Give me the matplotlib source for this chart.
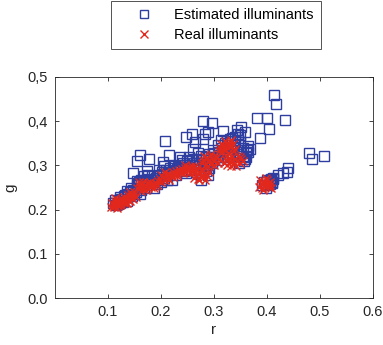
import matplotlib
matplotlib.use('Agg')
import matplotlib.pyplot as plt
from matplotlib.ticker import FixedLocator, FixedFormatter

plt.rcParams['font.family'] = ['Liberation Sans', 'DejaVu Sans']

# real illuminants (r, g), one row per cluster
real_r = [0.106, 0.109, 0.112, 0.115, 0.118, 0.121, 0.124, 0.127, 0.130, 0.108, 0.111, 0.114, 0.117, 0.120, 0.123, 0.126, 0.113, 0.119,
          0.129, 0.132, 0.135, 0.138, 0.141, 0.144, 0.147, 0.150, 0.153, 0.131, 0.134, 0.137, 0.140, 0.143, 0.146, 0.149, 0.136, 0.142,
          0.155, 0.158, 0.161, 0.164, 0.167, 0.170, 0.173, 0.176, 0.179, 0.182, 0.185, 0.188, 0.191, 0.159, 0.166, 0.172, 0.180, 0.186, 0.193, 0.163,
          0.195, 0.198, 0.201, 0.204, 0.207, 0.210, 0.213, 0.216, 0.219, 0.222, 0.225, 0.228, 0.231, 0.234, 0.200, 0.208, 0.215, 0.223, 0.230, 0.236,
          0.237, 0.240, 0.243, 0.246, 0.249, 0.252, 0.255, 0.258, 0.261, 0.264, 0.242, 0.248, 0.254, 0.260, 0.266, 0.245,
          0.263, 0.266, 0.269, 0.272, 0.275, 0.278, 0.281, 0.284, 0.287, 0.290, 0.265, 0.271, 0.277, 0.283, 0.268, 0.280,
          0.277, 0.280, 0.283, 0.286, 0.289, 0.292, 0.295, 0.298, 0.301, 0.304, 0.307, 0.310, 0.282, 0.288, 0.294, 0.300, 0.306, 0.291,
          0.309, 0.312, 0.315, 0.318, 0.321, 0.324, 0.327, 0.330, 0.333, 0.336, 0.339, 0.314, 0.320, 0.326, 0.332, 0.338, 0.317, 0.329,
          0.319, 0.322, 0.325, 0.328, 0.331, 0.334, 0.337, 0.340, 0.343, 0.346, 0.349, 0.352, 0.355, 0.324, 0.332, 0.341, 0.350, 0.336,
          0.385, 0.388, 0.391, 0.394, 0.397, 0.400, 0.403, 0.406, 0.387, 0.393, 0.399, 0.405, 0.390, 0.396, 0.402, 0.408]
real_g = [0.207, 0.212, 0.205, 0.214, 0.209, 0.217, 0.212, 0.219, 0.215, 0.216, 0.208, 0.220, 0.204, 0.222, 0.210, 0.224, 0.226, 0.211,
          0.218, 0.222, 0.216, 0.226, 0.220, 0.230, 0.224, 0.233, 0.229, 0.228, 0.214, 0.232, 0.219, 0.236, 0.227, 0.239, 0.225, 0.240,
          0.248, 0.255, 0.250, 0.258, 0.246, 0.253, 0.260, 0.249, 0.257, 0.252, 0.259, 0.254, 0.261, 0.262, 0.262, 0.245, 0.263, 0.248, 0.256, 0.243,
          0.264, 0.270, 0.262, 0.274, 0.268, 0.278, 0.271, 0.281, 0.275, 0.284, 0.278, 0.287, 0.281, 0.290, 0.279, 0.284, 0.266, 0.273, 0.275, 0.284,
          0.286, 0.292, 0.288, 0.295, 0.290, 0.297, 0.291, 0.298, 0.293, 0.299, 0.282, 0.284, 0.285, 0.287, 0.292, 0.300,
          0.272, 0.279, 0.270, 0.284, 0.275, 0.288, 0.273, 0.282, 0.277, 0.285, 0.286, 0.266, 0.291, 0.268, 0.289, 0.279,
          0.305, 0.312, 0.301, 0.317, 0.308, 0.321, 0.304, 0.315, 0.310, 0.320, 0.306, 0.314, 0.321, 0.298, 0.325, 0.300, 0.318, 0.312,
          0.333, 0.340, 0.330, 0.345, 0.336, 0.350, 0.339, 0.354, 0.343, 0.349, 0.338, 0.349, 0.356, 0.328, 0.358, 0.332, 0.338, 0.345,
          0.306, 0.313, 0.302, 0.317, 0.308, 0.320, 0.304, 0.315, 0.309, 0.321, 0.305, 0.314, 0.310, 0.321, 0.298, 0.299, 0.319, 0.311,
          0.252, 0.259, 0.248, 0.264, 0.254, 0.267, 0.251, 0.262, 0.266, 0.245, 0.271, 0.256, 0.257, 0.258, 0.260, 0.250]

# estimated illuminants (r, g)
est_r = [0.110, 0.115, 0.120, 0.125, 0.118, 0.130, 0.135, 0.138, 0.142, 0.145, 0.128, 0.150, 0.148, 0.152, 0.123,
         0.155, 0.158, 0.162, 0.166, 0.170, 0.174, 0.178, 0.182, 0.186, 0.190, 0.160, 0.168, 0.176, 0.155, 0.163, 0.187,
         0.195, 0.198, 0.202, 0.206, 0.210, 0.214, 0.218, 0.222, 0.226, 0.230, 0.234, 0.200, 0.212, 0.228, 0.196, 0.205,
         0.238, 0.242, 0.246, 0.250, 0.254, 0.258, 0.262, 0.266, 0.244, 0.256, 0.240, 0.252,
         0.266, 0.270, 0.275, 0.280, 0.285, 0.290, 0.272, 0.283, 0.276, 0.288,
         0.280, 0.285, 0.290, 0.295, 0.300, 0.305, 0.310, 0.296, 0.308, 0.290, 0.312, 0.275,
         0.315, 0.320, 0.325, 0.330, 0.335, 0.340, 0.340, 0.345, 0.338, 0.318, 0.345, 0.350,
         0.325, 0.335, 0.345, 0.350, 0.355, 0.358, 0.360, 0.362, 0.355, 0.348, 0.356, 0.365, 0.360,
         0.390, 0.395, 0.400, 0.405, 0.408, 0.410, 0.402, 0.398, 0.412, 0.406,
         0.414, 0.418, 0.381, 0.401, 0.434, 0.404, 0.387, 0.480, 0.486, 0.508,
         0.440, 0.437, 0.430, 0.420, 0.412, 0.406, 0.410,
         0.208, 0.279, 0.296, 0.248, 0.258, 0.264, 0.284, 0.289, 0.280, 0.318, 0.343, 0.352, 0.359,
         0.349, 0.365, 0.368, 0.160, 0.154, 0.177, 0.148, 0.174, 0.216, 0.204, 0.135, 0.160, 0.123,
         0.236, 0.261, 0.270, 0.299, 0.308, 0.314,
         0.113, 0.132, 0.144, 0.157, 0.171, 0.184, 0.192, 0.203, 0.221, 0.233, 0.248, 0.262, 0.268, 0.287, 0.302, 0.328, 0.352]
est_g = [0.215, 0.210, 0.220, 0.225, 0.212, 0.230, 0.220, 0.235, 0.240, 0.230, 0.218, 0.235, 0.245, 0.240, 0.215,
         0.255, 0.262, 0.268, 0.260, 0.265, 0.270, 0.262, 0.268, 0.262, 0.272, 0.250, 0.275, 0.278, 0.265, 0.245, 0.250,
         0.268, 0.278, 0.285, 0.272, 0.290, 0.282, 0.295, 0.288, 0.298, 0.292, 0.302, 0.262, 0.266, 0.278, 0.290, 0.298,
         0.295, 0.305, 0.300, 0.310, 0.302, 0.312, 0.305, 0.315, 0.288, 0.290, 0.312, 0.318,
         0.285, 0.292, 0.285, 0.290, 0.288, 0.295, 0.300, 0.298, 0.268, 0.278,
         0.312, 0.320, 0.325, 0.318, 0.328, 0.320, 0.330, 0.305, 0.312, 0.305, 0.318, 0.322,
         0.340, 0.350, 0.355, 0.360, 0.362, 0.355, 0.365, 0.358, 0.345, 0.332, 0.370, 0.368,
         0.318, 0.322, 0.325, 0.330, 0.322, 0.315, 0.328, 0.335, 0.340, 0.305, 0.310, 0.330, 0.318,
         0.255, 0.262, 0.268, 0.265, 0.270, 0.262, 0.255, 0.250, 0.270, 0.258,
         0.459, 0.438, 0.408, 0.408, 0.402, 0.383, 0.361, 0.327, 0.314, 0.322,
         0.293, 0.286, 0.282, 0.278, 0.271, 0.267, 0.260,
         0.356, 0.400, 0.395, 0.365, 0.372, 0.353, 0.372, 0.376, 0.359, 0.378, 0.381, 0.387, 0.376,
         0.353, 0.344, 0.338, 0.323, 0.311, 0.314, 0.282, 0.288, 0.323, 0.308, 0.243, 0.235, 0.229,
         0.320, 0.336, 0.327, 0.335, 0.346, 0.357,
         0.222, 0.232, 0.248, 0.258, 0.248, 0.275, 0.258, 0.280, 0.268, 0.296, 0.282, 0.300, 0.305, 0.302, 0.318, 0.326, 0.334]

x_ticks = [0.1, 0.2, 0.3, 0.4, 0.5, 0.6]
x_labels = ['0.1', '0.2', '0.3', '0.4', '0.5', '0.6']
y_ticks = [0.0, 0.1, 0.2, 0.3, 0.4, 0.5]
y_labels = ['0.0', '0.1', '0.2', '0,3', '0,4', '0,5']

fig = plt.figure(figsize=(3.83, 3.45), dpi=100)
ax = fig.add_axes([0.1436, 0.136, 0.830, 0.641])

h_est, = ax.plot(est_r, est_g, 's', mfc='none', mec='#2e3ea0', ms=6.8, mew=1.0,
                 label='Estimated illuminants')
h_real, = ax.plot(real_r, real_g, 'x', color='#e2281c', ms=5.8, mew=1.0,
                  label='Real illuminants')

ax.set_xlim(0, 0.6)
ax.set_ylim(0, 0.5)
ax.xaxis.set_major_locator(FixedLocator(x_ticks))
ax.xaxis.set_major_formatter(FixedFormatter(x_labels))
ax.yaxis.set_major_locator(FixedLocator(y_ticks))
ax.yaxis.set_major_formatter(FixedFormatter(y_labels))
ax.tick_params(direction='in', top=True, right=True, length=3, width=0.6,
               labelsize=10.5, colors='#262626', pad=5)
for s in ax.spines.values():
    s.set_linewidth(0.6)
    s.set_color('#262626')
ax.set_xlabel('r', fontsize=11, color='#262626', labelpad=3)
ax.set_ylabel('g', fontsize=11, color='#262626', labelpad=7)

leg = fig.legend(handles=[h_est, h_real], loc='upper left',
                 bbox_to_anchor=(111 / 383, 1 - 1 / 345), fontsize=10.5,
                 frameon=True, fancybox=False, edgecolor='#262626',
                 handlelength=3.5, handletextpad=0.32, borderpad=0.5,
                 labelspacing=0.4, borderaxespad=0, markerscale=0.95)
leg.get_frame().set_linewidth(0.7)

fig.savefig('out.png', dpi=100)
